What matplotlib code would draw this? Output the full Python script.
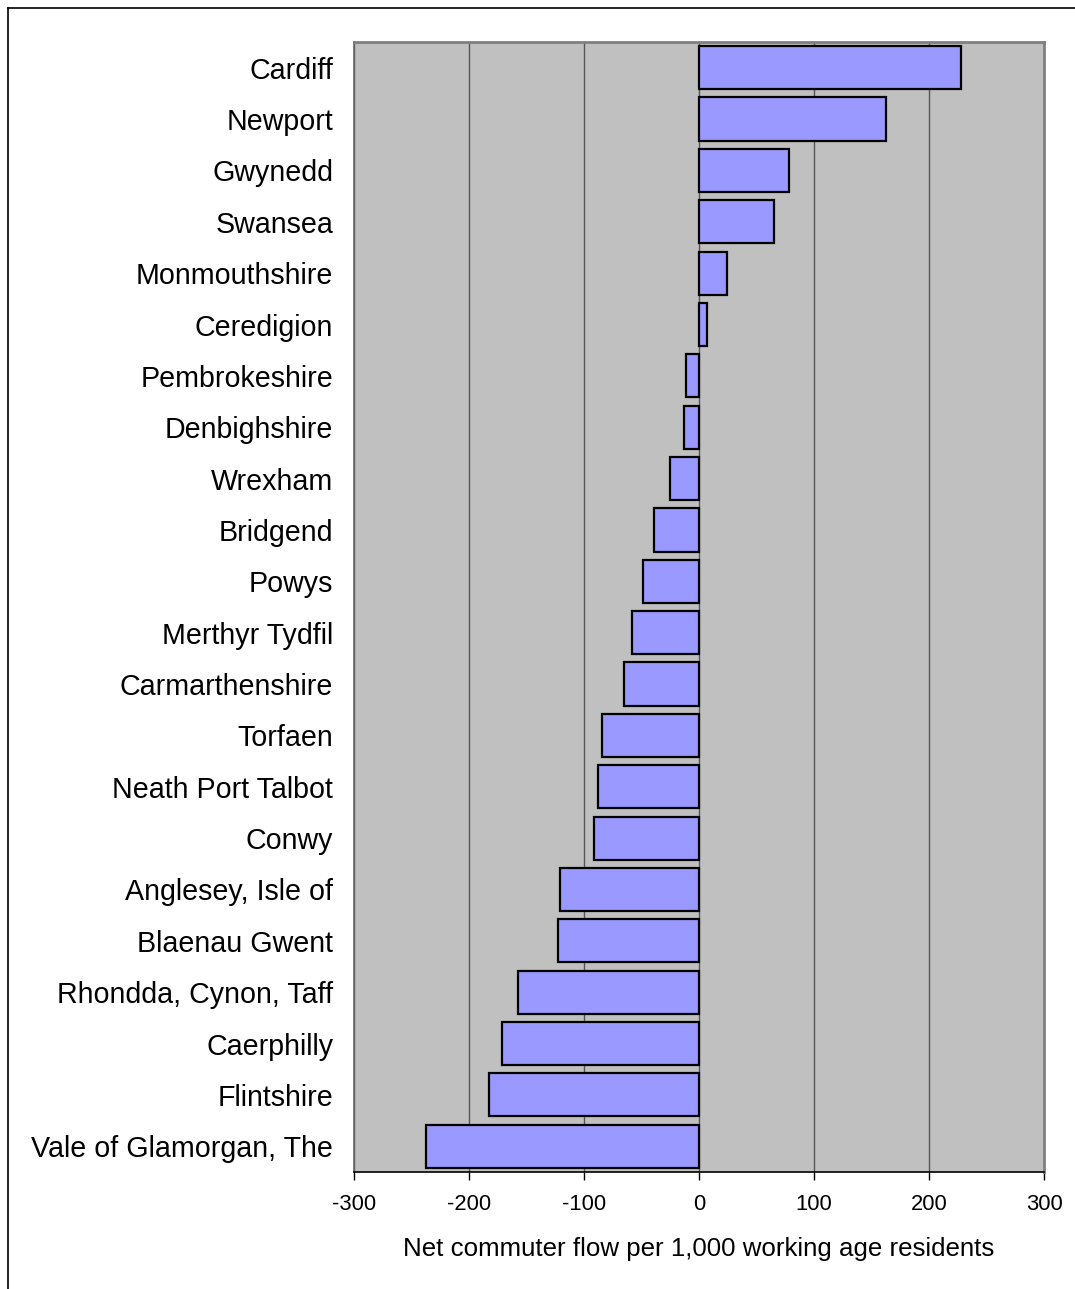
import matplotlib.pyplot as plt
from matplotlib.lines import Line2D

# net commuter flow per 1,000 working age residents, by local authority
areas = ["Cardiff", "Newport", "Gwynedd", "Swansea", "Monmouthshire", "Ceredigion",
         "Pembrokeshire", "Denbighshire", "Wrexham", "Bridgend", "Powys",
         "Merthyr Tydfil", "Carmarthenshire", "Torfaen", "Neath Port Talbot",
         "Conwy", "Anglesey, Isle of", "Blaenau Gwent", "Rhondda, Cynon, Taff",
         "Caerphilly", "Flintshire", "Vale of Glamorgan, The"]
flow = [228, 163, 78, 65, 24, 7, -11, -13, -25, -39, -49, -58, -65, -84, -88,
        -91, -121, -123, -157, -171, -183, -237]
xticks = [-300, -200, -100, 0, 100, 200, 300]

plt.rcParams["font.family"] = ["Liberation Sans", "DejaVu Sans"]

fig = plt.figure(figsize=(10.75, 12.89), dpi=100)
ax = fig.add_axes([0.3293, 0.0908, 0.6419, 0.8766])
ax.set_facecolor("#C0C0C0")

pos = list(range(len(areas)))
ax.barh(pos, flow, height=0.84, color="#9999FF", edgecolor="black",
        linewidth=1.6, zorder=3)
ax.set_ylim(len(areas) - 0.5, -0.5)
ax.set_xlim(-300, 300)

ax.set_xticks(xticks)
ax.set_xticklabels([str(t) for t in xticks], fontsize=15.8)
ax.set_yticks(pos)
ax.set_yticklabels(areas, fontsize=20.6)
ax.tick_params(axis="y", length=0, pad=15)
ax.tick_params(axis="x", length=6, width=1, direction="out", pad=10, color="black")

ax.grid(axis="x", color="#555555", linewidth=1, zorder=1)
ax.set_axisbelow(True)
for s in ["top", "right"]:
    ax.spines[s].set_color("#808080")
    ax.spines[s].set_linewidth(2)
ax.spines["left"].set_color("#666666")
ax.spines["left"].set_linewidth(1.2)
ax.spines["bottom"].set_color("black")
ax.spines["bottom"].set_linewidth(1.2)

ax.set_xlabel("Net commuter flow per 1,000 working age residents", fontsize=18.6,
              labelpad=16)

# outer chart frame, cut off at the right and bottom
fig.add_artist(Line2D([8 / 1075, 8 / 1075], [0, 1 - 8 / 1289], color="black",
                      linewidth=1.2, transform=fig.transFigure))
fig.add_artist(Line2D([8 / 1075, 1], [1 - 8 / 1289, 1 - 8 / 1289], color="black",
                      linewidth=1.2, transform=fig.transFigure))

fig.savefig("out.png", dpi=100)
